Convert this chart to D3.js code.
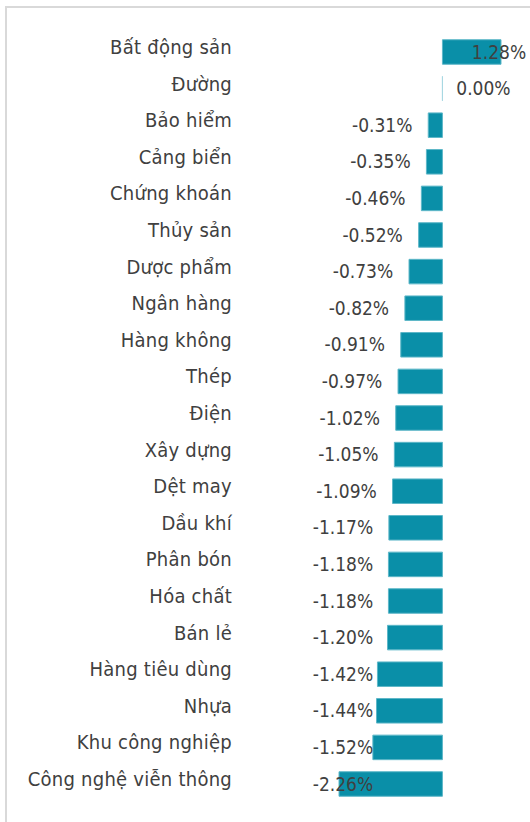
<!DOCTYPE html>
<html><head><meta charset="utf-8">
<script src="https://cdn.jsdelivr.net/npm/d3@7"></script>
<style>
html,body{margin:0;padding:0;background:#fff;}
text{font-family:"DejaVu Sans Condensed","DejaVu Sans",sans-serif;font-stretch:condensed;fill:#404040;}
</style></head>
<body>
<svg id="chart" width="530" height="822"></svg>
<script>
const categories = ["Bất động sản","Đường","Bảo hiểm","Cảng biển","Chứng khoán","Thủy sản","Dược phẩm","Ngân hàng","Hàng không","Thép","Điện","Xây dựng","Dệt may","Dầu khí","Phân bón","Hóa chất","Bán lẻ","Hàng tiêu dùng","Nhựa","Khu công nghiệp","Công nghệ viễn thông"];
const values = [1.28,0.00,-0.31,-0.35,-0.46,-0.52,-0.73,-0.82,-0.91,-0.97,-1.02,-1.05,-1.09,-1.17,-1.18,-1.18,-1.20,-1.42,-1.44,-1.52,-2.26];
const labels = values.map(v => v.toFixed(2) + "%");

const svg = d3.select("#chart");
const W = 530, H = 822;

// frame
svg.append("path")
  .attr("d", `M6,${H} V7 H${W}`)
  .attr("fill","none").attr("stroke","#d9d9d9").attr("stroke-width",2);

const x = d3.scaleLinear().domain([-2.26, 1.28]).range([339, 501]);
const y = d3.scaleBand().domain(categories).range([33.7, 802.3]).paddingInner(0.33).paddingOuter(0.165);

const data = categories.map((c,i)=>({c, v: values[i], l: labels[i]}));

// category labels
svg.append("g").selectAll("text").data(data).join("text")
  .attr("x", 232)
  .attr("y", d => y(d.c) + y.bandwidth()/2 + 2)
  .attr("text-anchor","end")
  .attr("font-size", 20)
  .attr("letter-spacing", 0.25)
  .text(d => d.c);

// bars
svg.append("g").selectAll("path").data(data).join("path")
  .attr("d", d => {
    const x0 = Math.min(x(0), x(d.v)), w = Math.abs(x(d.v) - x(0));
    const p = d3.path();
    p.rect(x0, y(d.c), w, y.bandwidth());
    return p.toString();
  })
  .attr("fill", "#0a8fa8")
  .attr("stroke", d => d.v === 0 ? "#a8d8e2" : "#5db7c8")
  .attr("stroke-width", 1);

// value labels
svg.append("g").selectAll("text").data(data).join("text")
  .attr("x", d => {
    const c = d.v < 0 ? x(d.v) - 46 : x(d.v) + 41;
    return Math.max(343, Math.min(499, c));
  })
  .attr("y", d => y(d.c) + y.bandwidth()/2 + 6.5)
  .attr("text-anchor","middle")
  .attr("font-size", 19)
  .text(d => d.l);
</script>
</body></html>
